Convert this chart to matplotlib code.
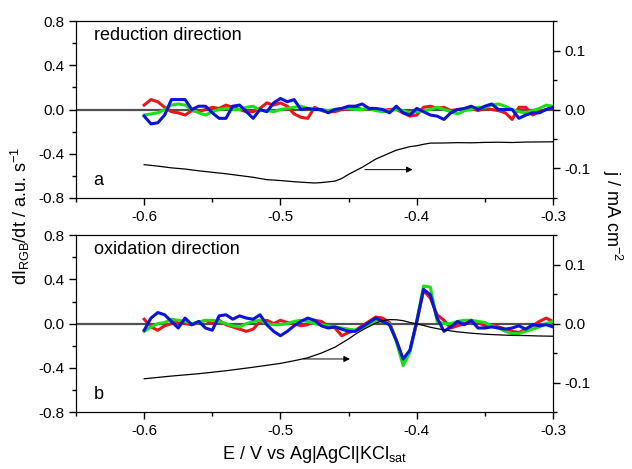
import matplotlib
matplotlib.use("Agg")
import matplotlib.pyplot as plt
import numpy as np
from matplotlib.ticker import MultipleLocator

plt.rcParams['font.family'] = ['Liberation Sans', 'DejaVu Sans']
plt.rcParams['mathtext.fontset'] = 'custom'
plt.rcParams['mathtext.rm'] = 'Liberation Sans'
plt.rcParams['mathtext.it'] = 'Liberation Sans'

# potential sweep, 5 mV steps
E = np.linspace(-0.6, -0.3, 61)

# (a) reduction direction, dI/dt
red_a = [0.04, 0.09, 0.07, 0.02, -0.02, -0.03, -0.05, -0.01, -0.02, 0.0,
         0.02, 0.01, 0.04, 0.02, 0.0, -0.02, -0.02, 0.01, 0.06, 0.04,
         0.06, 0.03, -0.04, -0.07, -0.08, 0.02, -0.01, -0.02, -0.02, 0.0,
         0.01, 0.02, 0.0, 0.01, 0.0, -0.01, 0.0, 0.0, -0.03, -0.06,
         -0.05, 0.02, 0.03, 0.01, 0.02, -0.01, 0.0, 0.0, 0.01, -0.01,
         0.01, 0.0, -0.01, -0.03, -0.09, 0.02, 0.02, -0.05, -0.02, 0.0, 0.02]
green_a = [-0.05, -0.04, -0.03, 0.0, 0.04, 0.05, 0.04, 0.0, -0.03, -0.05,
           -0.02, 0.0, 0.01, 0.0, 0.0, 0.02, 0.03, -0.01, -0.01, -0.02,
           0.0, 0.01, 0.02, 0.03, 0.01, 0.0, 0.0, -0.01, 0.0, 0.01,
           0.01, 0.0, 0.0, 0.01, -0.01, -0.02, -0.01, 0.0, -0.01, -0.03,
           -0.02, -0.01, 0.0, 0.02, 0.0, -0.02, -0.04, -0.01, 0.0, 0.02,
           0.02, 0.04, 0.05, 0.03, 0.0, -0.02, -0.03, -0.01, 0.01, 0.04, 0.03]
blue_a = [-0.06, -0.13, -0.12, -0.05, 0.09, 0.09, 0.09, 0.0, 0.03, 0.03,
          -0.03, -0.08, -0.08, 0.03, 0.04, -0.02, -0.08, 0.0, -0.02, 0.06,
          0.10, 0.07, 0.09, 0.0, 0.01, 0.0, 0.0, -0.03, 0.0, 0.01,
          0.03, 0.03, 0.05, 0.01, 0.01, 0.0, -0.03, 0.03, -0.03, -0.05,
          0.01, -0.02, -0.05, -0.06, -0.09, -0.03, 0.0, 0.01, 0.03, 0.0,
          0.03, 0.05, 0.0, 0.0, 0.0, -0.08, -0.05, -0.03, -0.03, 0.0, 0.02]

# (b) oxidation direction, dI/dt
red_b = [0.04, -0.03, -0.06, -0.02, 0.0, 0.02, 0.0, -0.01, 0.01, 0.03,
         0.0, 0.03, -0.01, -0.03, -0.05, -0.07, -0.05, 0.02, 0.03, 0.0,
         0.03, 0.01, 0.0, -0.02, -0.01, 0.03, 0.02, -0.02, -0.04, -0.11,
         -0.08, -0.06, -0.02, 0.02, 0.06, 0.05, 0.01, -0.15, -0.33, -0.25,
         0.01, 0.30, 0.23, 0.08, 0.03, -0.04, -0.02, 0.0, 0.02, 0.01,
         -0.02, -0.01, -0.03, -0.05, -0.07, -0.08, -0.05, -0.02, 0.02, 0.05, 0.02]
green_b = [-0.07, -0.03, 0.0, 0.01, 0.04, 0.03, 0.02, 0.0, 0.01, 0.03,
           0.03, 0.02, 0.0, -0.02, -0.03, 0.0, 0.02, 0.03, 0.0, -0.01,
           -0.01, 0.0, 0.02, 0.03, 0.02, 0.0, -0.01, -0.02, -0.03, -0.04,
           -0.05, -0.06, -0.04, -0.01, 0.03, 0.02, 0.0, -0.16, -0.38, -0.26,
           0.02, 0.34, 0.33, 0.02, 0.0, 0.0, 0.02, 0.03, 0.03, 0.02,
           0.01, -0.02, -0.04, -0.07, -0.09, -0.09, -0.07, -0.05, -0.03, 0.0, 0.02]
blue_b = [-0.06, 0.05, 0.10, 0.08, 0.02, -0.04, 0.05, -0.01, 0.02, -0.04,
          -0.06, 0.07, 0.08, 0.04, 0.07, 0.05, 0.04, 0.08, -0.01, -0.07,
          -0.11, -0.07, -0.02, 0.02, 0.05, 0.03, -0.02, -0.04, -0.03, -0.05,
          -0.07, -0.07, -0.03, 0.01, 0.05, 0.02, -0.01, -0.15, -0.32, -0.24,
          0.02, 0.31, 0.26, 0.05, -0.07, -0.03, 0.02, -0.01, 0.03, -0.04,
          -0.04, -0.03, -0.04, -0.05, -0.04, -0.02, -0.05, -0.01, -0.02, -0.01, -0.03]

# current density j / mA cm^-2
E_j_a = [-0.6, -0.59, -0.58, -0.57, -0.56, -0.55, -0.54, -0.53, -0.52, -0.51,
         -0.5, -0.49, -0.48, -0.475, -0.47, -0.46, -0.455, -0.45, -0.445, -0.44,
         -0.435, -0.43, -0.425, -0.42, -0.415, -0.41, -0.405, -0.4, -0.395, -0.39,
         -0.38, -0.37, -0.36, -0.35, -0.34, -0.33, -0.32, -0.31, -0.3]
j_a = [-0.0936, -0.096, -0.099, -0.101, -0.104, -0.1065, -0.109, -0.112, -0.115, -0.119,
       -0.1205, -0.1225, -0.124, -0.1247, -0.124, -0.1215, -0.117, -0.110, -0.104, -0.098,
       -0.091, -0.084, -0.079, -0.074, -0.069, -0.066, -0.063, -0.0615, -0.059, -0.057,
       -0.0568, -0.0562, -0.0565, -0.0558, -0.0555, -0.0560, -0.0552, -0.0550, -0.0548]
E_j_b = [-0.6, -0.58, -0.56, -0.54, -0.52, -0.5, -0.49, -0.48, -0.47, -0.46,
         -0.455, -0.45, -0.445, -0.44, -0.435, -0.43, -0.425, -0.42, -0.415, -0.41,
         -0.405, -0.4, -0.395, -0.39, -0.385, -0.38, -0.37, -0.36, -0.35, -0.34,
         -0.33, -0.32, -0.31, -0.3]
j_b = [-0.0936, -0.089, -0.085, -0.080, -0.074, -0.0675, -0.063, -0.058, -0.050, -0.040,
       -0.033, -0.026, -0.018, -0.011, -0.005, 0.001, 0.005, 0.0068, 0.0065, 0.005,
       0.002, -0.0006, -0.003, -0.0062, -0.0085, -0.0107, -0.014, -0.0163, -0.018, -0.0191,
       -0.020, -0.0203, -0.021, -0.0214]

panel_titles = ["reduction direction", "oxidation direction"]
panel_letters = ["a", "b"]
arrows = [((-0.438, -0.102), (-0.403, -0.102)), ((-0.483, -0.06), (-0.449, -0.06))]

fig = plt.figure(figsize=(6.32, 4.69), dpi=100)
rects = [[0.1203, 0.578, 0.7547, 0.377], [0.1203, 0.1215, 0.7547, 0.377]]
series = [(red_a, green_a, blue_a, E_j_a, j_a), (red_b, green_b, blue_b, E_j_b, j_b)]

for i, rect in enumerate(rects):
    r, g, b, ej, jj = series[i]
    ax = fig.add_axes(rect)
    ax.axhline(0, color='#505050', lw=1.6, zorder=1)
    ax.plot(E, r, color='#e8161b', lw=2.2, zorder=2)
    ax.plot(E, g, color='#18e018', lw=2.2, zorder=3)
    ax.plot(E, b, color='#0a14d8', lw=2.2, zorder=4)
    ax.set_xlim(-0.65, -0.3)
    ax.set_ylim(-0.8, 0.8)
    ax.xaxis.set_minor_locator(MultipleLocator(0.05))
    ax.yaxis.set_minor_locator(MultipleLocator(0.2))
    ax.set_xticks([-0.6, -0.5, -0.4, -0.3])
    ax.set_xticklabels(['-0.6', '-0.5', '-0.4', '-0.3'])
    ax.set_yticks([-0.8, -0.4, 0.0, 0.4, 0.8])
    ax.set_yticklabels(['-0.8', '-0.4', '0.0', '0.4', '0.8'])
    ax.tick_params(which='both', direction='out', labelsize=11, top=False, right=False)
    ax.tick_params(which='major', length=5, width=1)
    ax.tick_params(which='minor', length=3, width=1)
    ax.text(0.037, 0.92, panel_titles[i], transform=ax.transAxes, fontsize=13,
            va='center', ha='left')
    ax.text(0.037, 0.10, panel_letters[i], transform=ax.transAxes, fontsize=13,
            va='center', ha='left')

    ax2 = ax.twinx()
    ax2.plot(ej, jj, color='black', lw=0.9)
    ax2.set_ylim(-0.15, 0.15)
    ax2.yaxis.set_minor_locator(MultipleLocator(0.05))
    ax2.set_yticks([-0.1, 0.0, 0.1])
    ax2.set_yticklabels(['-0.1', '0.0', '0.1'])
    ax2.tick_params(which='both', direction='out', labelsize=11)
    ax2.tick_params(which='major', length=5, width=1)
    ax2.tick_params(which='minor', length=3, width=1)
    start, end = arrows[i]
    ax2.annotate('', xy=end, xytext=start,
                 arrowprops=dict(arrowstyle='-|>', color='black', lw=0.7,
                                 mutation_scale=9, shrinkA=0, shrinkB=0))

fig.text(0.032, 0.54, r'dI$_{\mathrm{RGB}}$/dt / a.u. s$^{-1}$', rotation=90,
         fontsize=13, ha='center', va='center')
fig.text(0.968, 0.54, r'j / mA cm$^{-2}$', rotation=270,
         fontsize=13, ha='center', va='center')
fig.text(0.498, 0.03, r'E / V vs Ag|AgCl|KCl$_{\mathrm{sat}}$',
         fontsize=13, ha='center', va='center')

fig.savefig('out.png', dpi=100)
